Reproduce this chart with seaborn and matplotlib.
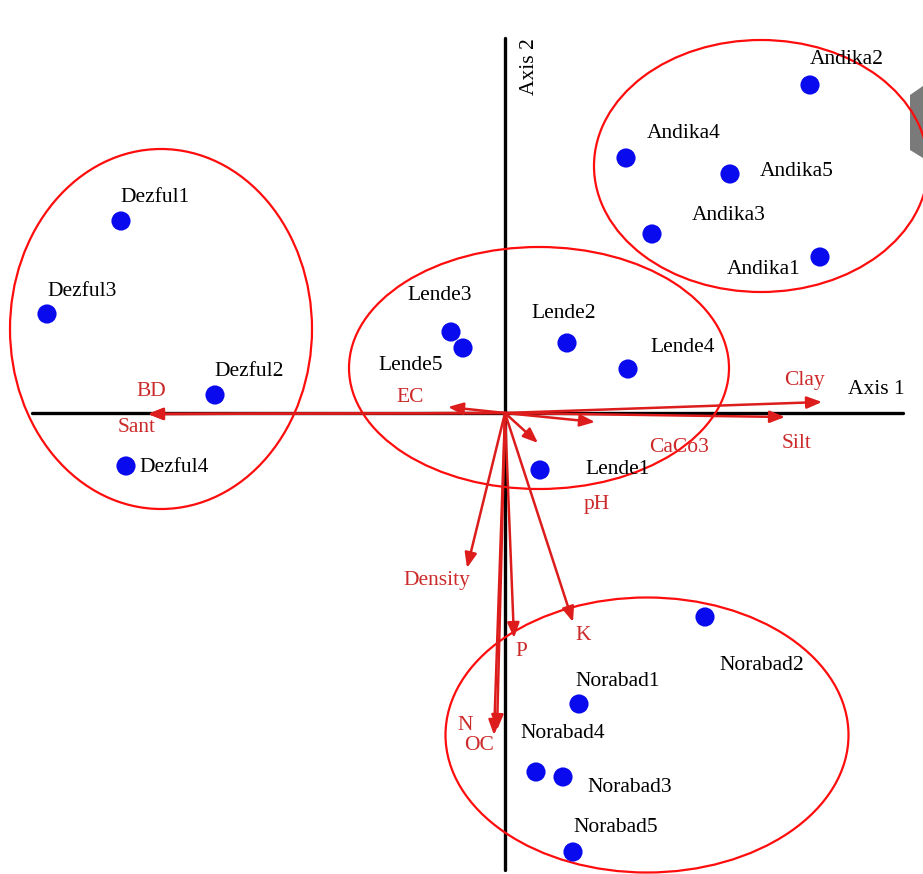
import matplotlib
matplotlib.use("Agg")
import matplotlib.pyplot as plt
import seaborn as sns
import pandas as pd
from matplotlib.patches import Ellipse, Polygon

sns.set_theme(style="white")
plt.rcParams['font.family'] = ['Liberation Serif', 'DejaVu Serif']

# Site scores (Axis 1, Axis 2)
sites = ["Andika2", "Andika4", "Andika5", "Andika3", "Andika1",
         "Dezful1", "Dezful3", "Dezful2", "Dezful4",
         "Lende3", "Lende5", "Lende2", "Lende4", "Lende1",
         "Norabad2", "Norabad1", "Norabad4", "Norabad3", "Norabad5"]
site_x = [3.05, 1.21, 2.25, 1.47, 3.15,
          -3.84, -4.58, -2.90, -3.79,
          -0.54, -0.42, 0.62, 1.23, 0.35,
          2.00, 0.74, 0.31, 0.58, 0.68]
site_y = [3.28, 2.55, 2.39, 1.79, 1.56,
          1.92, 0.99, 0.18, -0.53,
          0.81, 0.65, 0.70, 0.44, -0.57,
          -2.04, -2.91, -3.59, -3.64, -4.39]
# label offsets relative to points
lab_dx = [0.37, 0.58, 0.67, 0.77, -0.56,
          0.34, 0.35, 0.34, 0.48,
          -0.11, -0.52, -0.03, 0.55, 0.78,
          0.57, 0.39, 0.27, 0.67, 0.43]
lab_dy = [0.25, 0.25, 0.02, 0.19, -0.12,
          0.23, 0.23, 0.24, -0.02,
          0.37, -0.18, 0.29, 0.21, 0.00,
          -0.48, 0.23, 0.39, -0.11, 0.24]

# Variable loadings
variables = ["Clay", "Silt", "BD", "Sant", "EC", "CaCo3", "pH",
             "Density", "P", "K", "N", "OC"]
var_x = [3.17, 2.80, -3.57, -3.57, -0.57, 0.90, 0.33, -0.38, 0.09, 0.68, -0.11, -0.08]
var_y = [0.11, -0.04, -0.01, -0.01, 0.06, -0.09, -0.30, -1.55, -2.25, -2.09, -3.22, -3.17]
var_lab_x = [2.99, 2.92, -3.54, -3.68, -0.95, 1.74, 0.92, -0.68, 0.16, 0.78, -0.40, -0.26]
var_lab_y = [0.32, -0.30, 0.21, -0.14, 0.16, -0.34, -0.92, -1.67, -2.38, -2.22, -3.13, -3.33]

# Group ellipses: centre x, centre y, width, height
grp_cx = [-3.44, 0.34, 2.56, 1.42]
grp_cy = [0.84, 0.45, 2.47, -3.22]
grp_w = [3.02, 3.80, 3.34, 4.03]
grp_h = [3.60, 2.42, 2.52, 2.75]

fig = plt.figure(figsize=(9.23, 8.74), dpi=100)
ax = fig.add_axes([0, 0, 1, 1])
ax.set_xlim(-5.05, 4.18)
ax.set_ylim(-4.61, 4.13)
ax.axis("off")

FS = 15.5

# axes lines
ax.plot([-4.73, 3.98], [0, 0], color="black", lw=2.4, zorder=2)
ax.plot([0, 0], [3.75, -4.57], color="black", lw=2.4, zorder=2)
ax.text(3.43, 0.24, "Axis 1", fontsize=FS, color="black", ha="left", va="center")
ax.text(0.25, 3.46, "Axis 2", fontsize=FS, color="black", rotation=90,
        ha="center", va="center")

# ellipses
for cx, cy, w, h in zip(grp_cx, grp_cy, grp_w, grp_h):
    ax.add_patch(Ellipse((cx, cy), w, h, fill=False, edgecolor="#ff0d0d", lw=1.6, zorder=3))

# arrows
for x, y in zip(var_x, var_y):
    ax.annotate("", xy=(x, y), xytext=(0, 0),
                arrowprops=dict(arrowstyle="-|>,head_length=0.75,head_width=0.3",
                                color="#dd1c1c", lw=1.8, shrinkA=0, shrinkB=0),
                zorder=4)
for name, x, y in zip(variables, var_lab_x, var_lab_y):
    ax.text(x, y, name, fontsize=FS, color="#cc2a2a", ha="center", va="center")

# points
df = pd.DataFrame({"site": sites, "x": site_x, "y": site_y})
sns.scatterplot(data=df, x="x", y="y", s=190, color="#0a0aee", edgecolor="none",
                ax=ax, zorder=5, legend=False)
for name, x, y, dx, dy in zip(sites, site_x, site_y, lab_dx, lab_dy):
    ax.text(x + dx, y + dy, name, fontsize=FS, color="black", ha="center", va="center")

ax.set_xlim(-5.05, 4.18)
ax.set_ylim(-4.61, 4.13)

# grey artefact at the right edge
ax.add_patch(Polygon([(4.05, 3.18), (4.18, 3.27), (4.18, 2.55), (4.05, 2.63)],
                     closed=True, facecolor="#7a7a7a", edgecolor="none", zorder=1))

fig.savefig("out.png", dpi=100)
